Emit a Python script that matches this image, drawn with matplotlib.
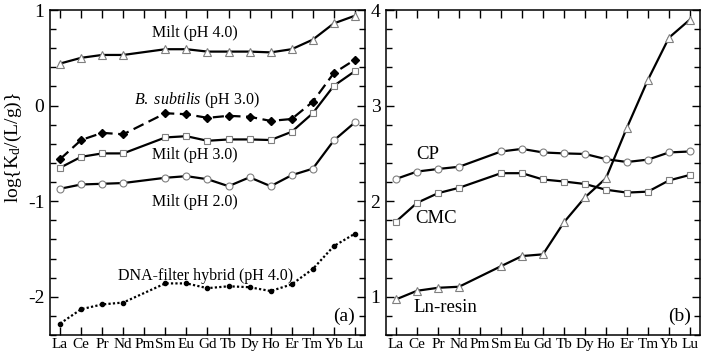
import numpy as np
import matplotlib
matplotlib.use("Agg")
import matplotlib.pyplot as plt
from matplotlib.ticker import MultipleLocator


plt.rcParams["font.family"] = ["Liberation Serif", "DejaVu Serif"]
plt.rcParams["mathtext.fontset"] = "custom"
plt.rcParams["mathtext.rm"] = "Liberation Serif"
plt.rcParams["mathtext.it"] = "Liberation Serif:italic"
plt.rcParams["axes.unicode_minus"] = False


# lanthanides on the x axis (no data for Pm)
elements = ["La", "Ce", "Pr", "Nd", "Pm", "Sm", "Eu", "Gd", "Tb", "Dy", "Ho", "Er", "Tm", "Yb", "Lu"]
measured = ["La", "Ce", "Pr", "Nd", "Sm", "Eu", "Gd", "Tb", "Dy", "Ho", "Er", "Tm", "Yb", "Lu"]

# panel (a)
milt_ph4 = [0.44, 0.50, 0.53, 0.53, 0.59, 0.59, 0.565, 0.565, 0.565, 0.557, 0.59, 0.69, 0.86, 0.94]
bsub_ph3 = [-0.56, -0.36, -0.285, -0.30, -0.08, -0.09, -0.128, -0.107, -0.117, -0.16, -0.14, 0.04, 0.34, 0.48]
milt_ph3 = [-0.65, -0.536, -0.50, -0.50, -0.333, -0.32, -0.368, -0.354, -0.354, -0.36, -0.274, -0.08, 0.207, 0.36]
milt_ph2 = [-0.87, -0.825, -0.818, -0.81, -0.755, -0.738, -0.77, -0.843, -0.75, -0.843, -0.728, -0.66, -0.365, -0.176]
dna_ph4 = [-2.28, -2.13, -2.08, -2.06, -1.86, -1.86, -1.91, -1.89, -1.90, -1.94, -1.87, -1.71, -1.47, -1.34]

# panel (b)
cp = [2.233, 2.31, 2.337, 2.36, 2.52, 2.547, 2.51, 2.50, 2.494, 2.44, 2.41, 2.435, 2.51, 2.52]
cmc = [1.787, 1.983, 2.084, 2.14, 2.293, 2.293, 2.227, 2.206, 2.18, 2.12, 2.09, 2.10, 2.217, 2.275]
ln_resin = [0.973, 1.063, 1.094, 1.105, 1.32, 1.426, 1.444, 1.78, 2.04, 2.24, 2.77, 3.27, 3.71, 3.90]


x_all = np.arange(len(elements))
x = np.array([elements.index(e) for e in measured])

GRAY = "#7f7f7f"


def hollow(ax, y, marker, ms=5.5):
    ax.plot(x, y, color="black", lw=1.6, marker=marker, ms=ms,
            mfc="white", mec=GRAY, mew=0.8, zorder=3)


def style_axes(ax, ylim, major):
    ax.set_xlim(-0.48, 14.48)
    ax.set_ylim(*ylim)
    ax.set_xticks(x_all)
    ax.set_xticklabels(elements, fontsize=11)
    ax.yaxis.set_major_locator(MultipleLocator(major))
    ax.yaxis.set_minor_locator(MultipleLocator(0.2))
    ax.tick_params(axis="x", which="major", direction="in", top=True, bottom=True,
                   length=5.5, width=1, pad=2.5)
    ax.tick_params(axis="y", which="major", direction="in", left=True, right=True,
                   length=6, width=1, labelsize=14, pad=4)
    ax.tick_params(axis="y", which="minor", direction="in", left=True, right=True,
                   length=4, width=1)
    for s in ax.spines.values():
        s.set_linewidth(1.1)


fig = plt.figure(figsize=(7.05, 3.58), dpi=100)
ax_a = fig.add_axes([0.0709, 0.0642, 0.4468, 0.9078])
ax_b = fig.add_axes([0.5475, 0.0642, 0.4454, 0.9078])

# (a)
hollow(ax_a, milt_ph4, "^")
ax_a.plot(x, bsub_ph3, color="black", lw=1.6, ls=(0, (5, 2.5)), marker="D", ms=3.8,
          mfc="black", mec="black", zorder=3)
hollow(ax_a, milt_ph3, "s", ms=5)
hollow(ax_a, milt_ph2, "o", ms=5)
ax_a.plot(x, dna_ph4, color="black", lw=1.6, ls=(0, (1, 1)), marker="o", ms=3,
          mfc="black", mec="black", zorder=3)

ax_a.text(6.4, 0.76, "Milt (pH 4.0)", fontsize=11.5, ha="center", va="center")
ax_a.text(6.5, 0.055, r"$\it{B.\ subtilis}$ (pH 3.0)", fontsize=11.5, ha="center", va="center")
ax_a.text(6.4, -0.52, "Milt (pH 3.0)", fontsize=11.5, ha="center", va="center")
ax_a.text(6.4, -1.01, "Milt (pH 2.0)", fontsize=11.5, ha="center", va="center")
ax_a.text(6.9, -1.78, "DNA-filter hybrid (pH 4.0)", fontsize=11.5, ha="center", va="center")
ax_a.text(13.48, -2.2, "(a)", fontsize=14, ha="center", va="center")

style_axes(ax_a, (-2.4, 1.0), 1)
ax_a.set_ylabel(r"log{K$_\mathrm{d}$/(L/g)}", fontsize=14)
ax_a.yaxis.set_label_coords(-0.082, 0.577)

# (b)
hollow(ax_b, cp, "o", ms=5)
hollow(ax_b, cmc, "s", ms=5)
hollow(ax_b, ln_resin, "^")

ax_b.text(1.52, 2.49, "CP", fontsize=13.5, ha="center", va="center")
ax_b.text(1.89, 1.82, "CMC", fontsize=13.5, ha="center", va="center")
ax_b.text(2.37, 0.89, "Ln-resin", fontsize=13.5, ha="center", va="center")
ax_b.text(13.49, 0.8, "(b)", fontsize=14, ha="center", va="center")

style_axes(ax_b, (0.6, 4.0), 1)

fig.savefig("out.png", dpi=100)
plt.close(fig)
